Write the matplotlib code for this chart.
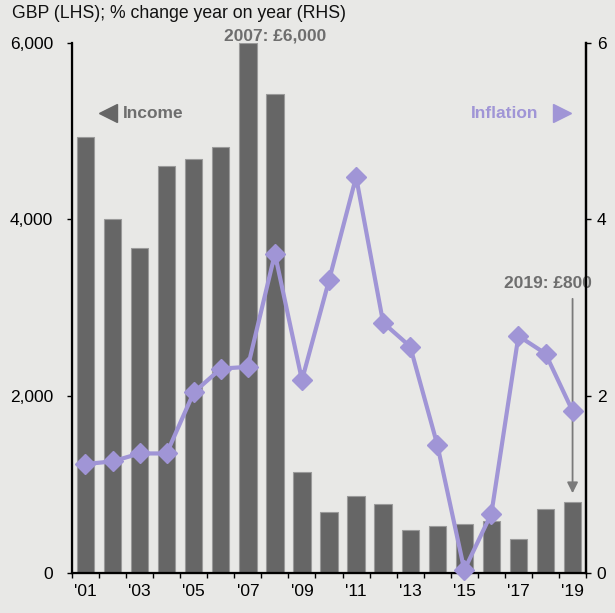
import matplotlib
matplotlib.use("Agg")
import matplotlib.pyplot as plt
import numpy as np

plt.rcParams["font.family"] = ["Liberation Sans", "DejaVu Sans"]

years = np.arange(2001, 2020)
income = [4930, 4000, 3680, 4600, 4680, 4820, 6000, 5420, 1140, 690, 870,
          775, 480, 525, 555, 580, 385, 720, 800]
inflation = [1.23, 1.26, 1.35, 1.35, 2.04, 2.31, 2.33, 3.61, 2.18, 3.31, 4.48,
             2.83, 2.56, 1.45, 0.03, 0.67, 2.68, 2.48, 1.83]
year_labels = ["'01", "'03", "'05", "'07", "'09", "'11", "'13", "'15", "'17", "'19"]

BG = "#e8e8e6"
BAR = "#666666"
LINE = "#a095d6"
TXT = "#6e6e6e"

fig = plt.figure(figsize=(6.15, 6.13), dpi=100, facecolor=BG)
ax = fig.add_axes([0.117, 0.0657, 0.836, 0.8648], facecolor=BG)

ax.bar(years, income, width=0.64, color=BAR, edgecolor="#9a9a9a", linewidth=0.8, zorder=2)
ax.set_xlim(2000.5, 2019.5)
ax.set_ylim(0, 6000)
ax.set_yticks([0, 2000, 4000, 6000])
ax.set_yticklabels(["0", "2,000", "4,000", "6,000"])

# boundary ticks between bars, labels on odd years at bar centres
ax.set_xticks(np.arange(2000.5, 2020.5, 1.0))
ax.set_xticklabels([])
ax.set_xticks(years[::2], minor=True)
ax.set_xticklabels(year_labels, minor=True)
ax.tick_params(axis="x", which="major", length=3.6, width=1, direction="out")
ax.tick_params(axis="x", which="minor", length=0, pad=8, labelsize=12.5)
ax.tick_params(axis="y", length=3.6, width=1, pad=10, labelsize=12.5)

ax.spines["top"].set_visible(False)
for side in ["left", "right", "bottom"]:
    ax.spines[side].set_linewidth(1.6)

ax2 = ax.twinx()
ax2.set_ylim(0, 6)
ax2.set_yticks([0, 2, 4, 6])
ax2.tick_params(axis="y", length=3.6, width=1, pad=4, labelsize=12.5)
ax2.spines["top"].set_visible(False)
ax2.spines["right"].set_linewidth(1.6)
ax2.plot(years, inflation, color=LINE, linewidth=3, marker="D", markersize=10,
         clip_on=False, zorder=3)

# series labels with pointers
ax.plot([2001.83], [5200], marker="<", markersize=13, color=BAR, clip_on=False)
ax.text(2002.38, 5200, "Income", color=TXT, fontsize=12.5, fontweight="bold",
        ha="left", va="center")
ax.plot([2018.6], [5200], marker=">", markersize=13, color=LINE, clip_on=False)
ax.text(2017.75, 5200, "Inflation", color=LINE, fontsize=12.5, fontweight="bold",
        ha="right", va="center")

ax.text(2008.0, 6070, "2007: £6,000", color=TXT, fontsize=12.5, fontweight="bold",
        ha="center", va="center", clip_on=False)
ax.text(2019.7, 3270, "2019: £800", color=TXT, fontsize=12.5, fontweight="bold",
        ha="right", va="center")
ax.annotate("", xy=(2019, 900), xytext=(2019, 3100),
            arrowprops=dict(arrowstyle="-|>", color="#7a7a7a", lw=1.3,
                            mutation_scale=16, shrinkA=0, shrinkB=0))

fig.text(12 / 615, 1 - 13.5 / 613, "GBP (LHS); % change year on year (RHS)",
         fontsize=12.7, ha="left", va="center", color="#111111")

fig.savefig("out.png", dpi=100, facecolor=BG)
